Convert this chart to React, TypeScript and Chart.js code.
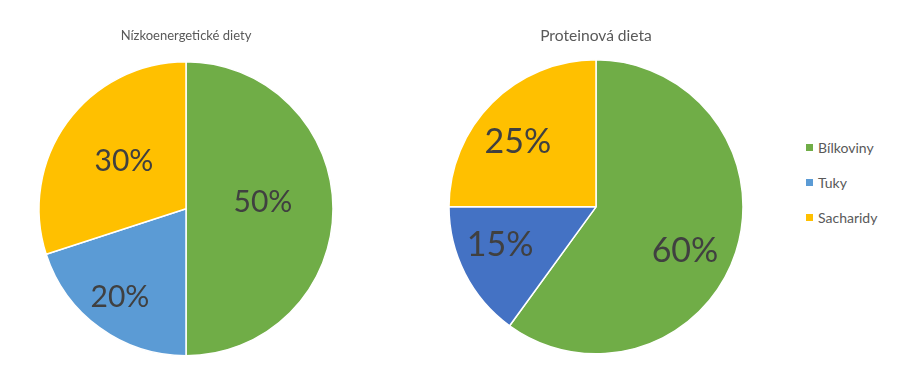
import React, { useEffect, useRef } from "react";
import { Chart, registerables } from "chart.js";

Chart.register(...registerables);

const categories = ["Bílkoviny", "Tuky", "Sacharidy"];
const lowEnergyValues = [50, 20, 30];
const proteinValues = [60, 15, 25];
const lowEnergyTitle = "Nízkoenergetické diety";
const proteinTitle = "Proteinová dieta";

const GREEN = "#70AD47";
const BLUE_LIGHT = "#5B9BD5";
const BLUE_DARK = "#4472C4";
const YELLOW = "#FFC000";
const legendColors = [GREEN, BLUE_LIGHT, YELLOW];
const FONT = "Lato, 'Open Sans', sans-serif";

const pctLabels = {
  id: "pctLabels",
  afterDatasetsDraw(chart: any, _args: any, opts: any) {
    const ctx = chart.ctx;
    const meta = chart.getDatasetMeta(0);
    const data = chart.data.datasets[0].data as number[];
    const total = data.reduce((a, b) => a + b, 0);
    ctx.save();
    ctx.font = `${opts.size || 30}px ${FONT}`;
    ctx.fillStyle = opts.color || "#404040";
    ctx.textAlign = "center";
    ctx.textBaseline = "middle";
    meta.data.forEach((arc: any, i: number) => {
      const { x, y, startAngle, endAngle, outerRadius } = arc.getProps(
        ["x", "y", "startAngle", "endAngle", "outerRadius"],
        true
      );
      const shift = ((opts.shifts && opts.shifts[i]) || 0) * Math.PI / 180;
      const mid = (startAngle + endAngle) / 2 + shift;
      const f = (opts.radii && opts.radii[i]) || 0.6;
      const lx = x + Math.cos(mid) * outerRadius * f;
      const ly = y + Math.sin(mid) * outerRadius * f;
      ctx.fillText(Math.round((data[i] / total) * 100) + "%", lx, ly);
    });
    ctx.restore();
  },
};

function PieChart(props: {
  values: number[];
  colors: string[];
  title: string;
  titleSize: number;
  titlePadTop: number;
  titlePadBottom: number;
  padBottom: number;
  radius: number;
  radii: number[];
  shifts: number[];
  labelSize: number;
  width: number;
  left: number;
}) {
  const ref = useRef<HTMLCanvasElement>(null);
  useEffect(() => {
    if (!ref.current) return;
    const chart = new Chart(ref.current, {
      type: "pie",
      data: {
        labels: categories,
        datasets: [
          {
            data: props.values,
            backgroundColor: props.colors,
            borderColor: "#ffffff",
            borderWidth: 1.5,
            hoverOffset: 0,
          },
        ],
      },
      options: {
        responsive: false,
        animation: false,
        devicePixelRatio: 1,
        radius: props.radius,
        layout: { padding: { bottom: props.padBottom } },
        plugins: {
          legend: { display: false },
          tooltip: { enabled: false },
          title: {
            display: true,
            text: props.title,
            color: "#595959",
            font: { family: FONT, size: props.titleSize, weight: "normal" },
            padding: { top: props.titlePadTop, bottom: props.titlePadBottom },
          },
          pctLabels: {
            radii: props.radii,
            shifts: props.shifts,
            size: props.labelSize,
            color: "#404040",
          },
        } as any,
      } as any,
      plugins: [pctLabels],
    });
    return () => chart.destroy();
  }, []);
  return (
    <canvas
      ref={ref}
      width={props.width}
      height={386}
      style={{ position: "absolute", left: props.left, top: 0, width: props.width, height: 386 }}
    />
  );
}

export default function App() {
  return (
    <div
      style={{
        position: "absolute",
        left: 0,
        top: 0,
        width: 900,
        height: 386,
        background: "#ffffff",
        overflow: "hidden",
      }}
    >
      <PieChart
        values={lowEnergyValues}
        colors={[GREEN, BLUE_LIGHT, YELLOW]}
        title={lowEnergyTitle}
        titleSize={13}
        titlePadTop={28}
        titlePadBottom={6}
        padBottom={18}
        radius={147}
        radii={[0.525, 0.754, 0.53]}
        shifts={[-4.5, 0.6, 1.2]}
        labelSize={30}
        width={372}
        left={0}
      />
      <PieChart
        values={proteinValues}
        colors={[GREEN, BLUE_DARK, YELLOW]}
        title={proteinTitle}
        titleSize={15.6}
        titlePadTop={27}
        titlePadBottom={4}
        padBottom={22}
        radius={147}
        radii={[0.677, 0.703, 0.69]}
        shifts={[8.6, 5.1, -5.3]}
        labelSize={34}
        width={300}
        left={446}
      />
      {categories.map((c, i) => (
        <div
          key={c}
          style={{
            position: "absolute",
            left: 806,
            top: 147 + i * 35 - 9,
            height: 18,
            display: "flex",
            alignItems: "center",
            fontFamily: FONT,
            fontSize: 14,
            color: "#595959",
          }}
        >
          <span
            style={{
              display: "inline-block",
              width: 7,
              height: 7,
              background: legendColors[i],
              marginRight: 5,
            }}
          />
          <span>{c}</span>
        </div>
      ))}
    </div>
  );
}
